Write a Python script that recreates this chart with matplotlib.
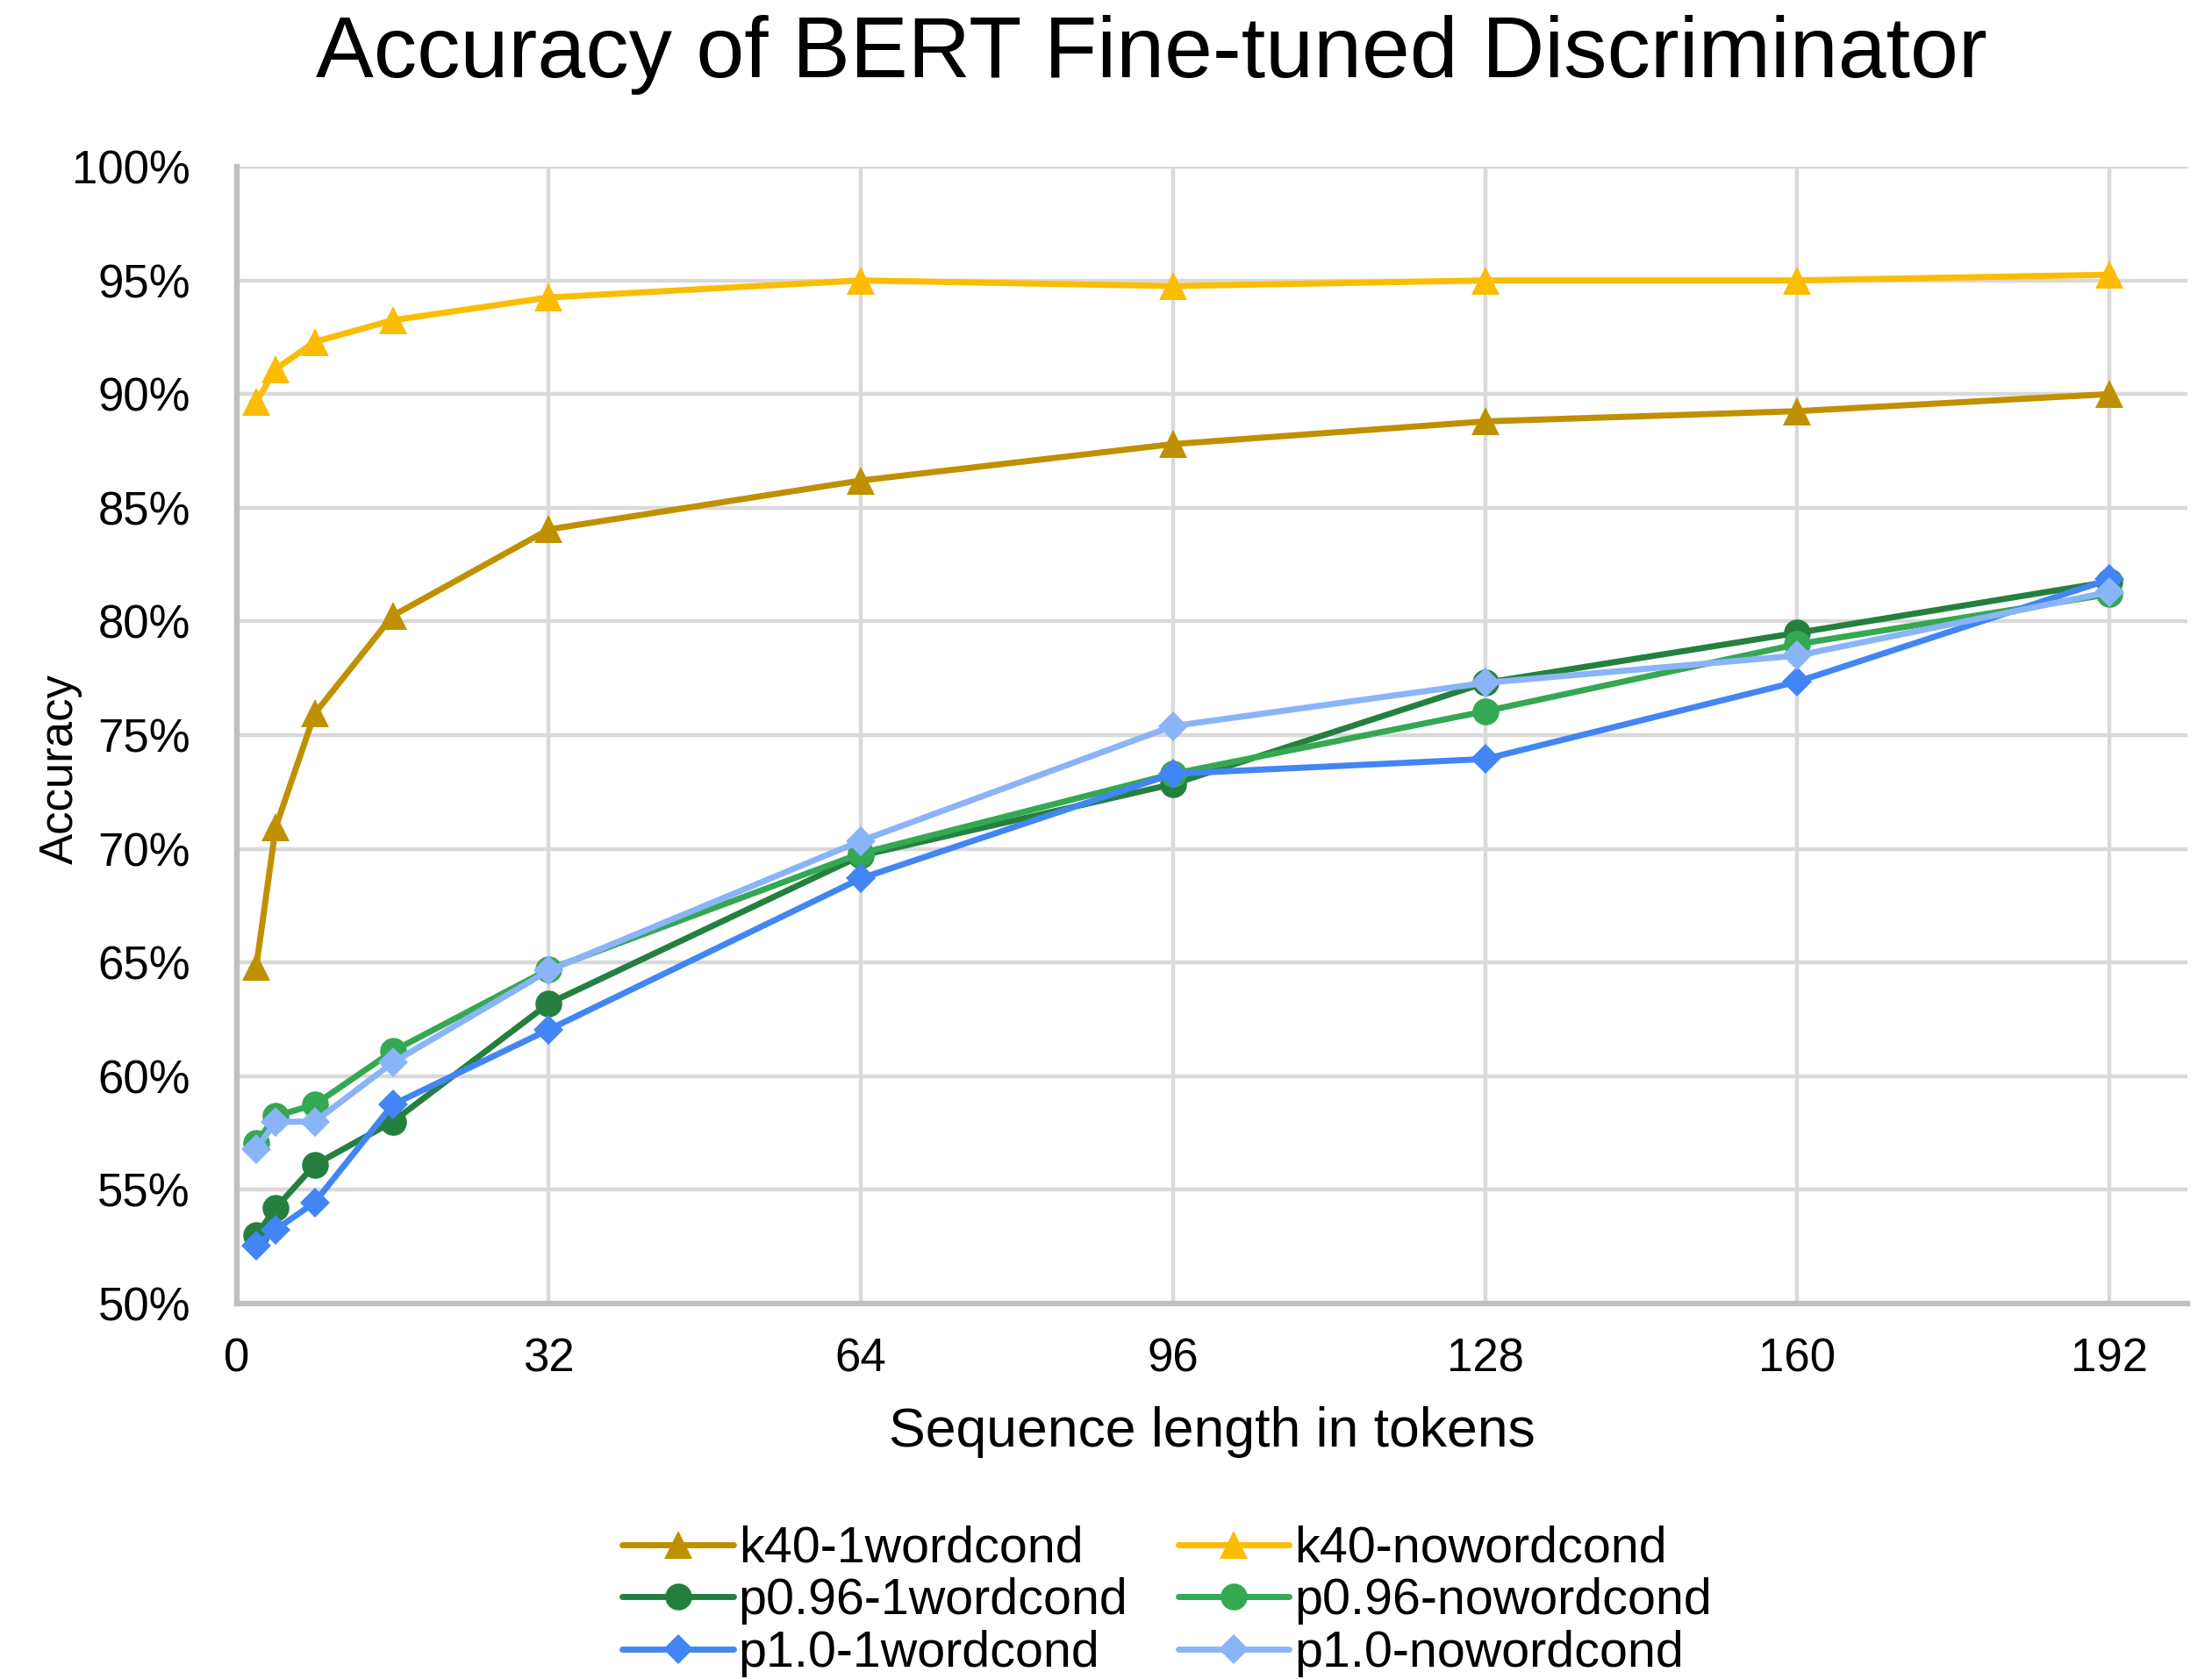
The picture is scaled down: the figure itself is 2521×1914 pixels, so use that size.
import matplotlib
matplotlib.use("Agg")
import matplotlib.pyplot as plt
from matplotlib.ticker import FuncFormatter

plt.rcParams['font.family'] = ['Liberation Sans', 'DejaVu Sans']

# Sequence lengths (tokens)
seq_len = [2, 4, 8, 16, 32, 64, 96, 128, 160, 192]

# Discriminator accuracy (%) per sampling setup
k40_1wordcond = [64.8, 70.95, 75.95, 80.25, 84.05, 86.2, 87.8, 88.8, 89.25, 90.0]
k40_nowordcond = [89.65, 91.1, 92.3, 93.25, 94.25, 95.0, 94.75, 95.0, 95.0, 95.25]
p096_1wordcond = [53.0, 54.2, 56.1, 58.0, 63.2, 69.7, 72.85, 77.3, 79.5, 81.75]
p096_nowordcond = [57.05, 58.25, 58.75, 61.1, 64.7, 69.8, 73.3, 76.05, 79.0, 81.2]
p10_1wordcond = [52.55, 53.25, 54.45, 58.75, 62.05, 68.7, 73.3, 73.95, 77.35, 81.85]
p10_nowordcond = [56.8, 58.0, 58.0, 60.6, 64.65, 70.35, 75.4, 77.3, 78.5, 81.3]

x_ticks = [0, 32, 64, 96, 128, 160, 192]
y_ticks = [50, 55, 60, 65, 70, 75, 80, 85, 90, 95, 100]

series = [
    ("k40-1wordcond", k40_1wordcond, "#BF9000", "^", 23),
    ("k40-nowordcond", k40_nowordcond, "#FBBC04", "^", 23),
    ("p0.96-1wordcond", p096_1wordcond, "#25803F", "o", 22),
    ("p0.96-nowordcond", p096_nowordcond, "#34A853", "o", 22),
    ("p1.0-1wordcond", p10_1wordcond, "#4285F4", "D", 17.5),
    ("p1.0-nowordcond", p10_nowordcond, "#8AB4F8", "D", 17.5),
]

fig = plt.figure(figsize=(25.21, 19.14), dpi=100)
ax = fig.add_axes([0.107, 0.2236, 0.8819, 0.6771])

handles = {}
for name, vals, color, marker, ms in series:
    line, = ax.plot(seq_len, vals, color=color, lw=5, marker=marker,
                    markersize=ms, markeredgewidth=0, label=name,
                    solid_joinstyle='round', solid_capstyle='round', zorder=3)
    handles[name] = line

ax.set_xlim(0, 200)
ax.set_ylim(50, 100)
ax.set_xticks(x_ticks)
ax.set_yticks(y_ticks)
ax.yaxis.set_major_formatter(FuncFormatter(lambda v, p: f"{v:.0f}%"))

ax.grid(True, color="#D9D9D9", lw=3.2, zorder=0)
ax.set_axisbelow(True)
for side in ("top", "right"):
    ax.spines[side].set_visible(False)
for side in ("left", "bottom"):
    ax.spines[side].set_color("#BFBFBF")
    ax.spines[side].set_linewidth(4.6)
    ax.spines[side].set_zorder(2)

ax.tick_params(axis="both", length=0, labelsize=38, colors="#000000")
ax.tick_params(axis="y", pad=38)
ax.tick_params(axis="x", pad=28)

ax.set_xlabel("Sequence length in tokens", fontsize=45, labelpad=20)
ax.set_ylabel("Accuracy", fontsize=38)
ax.yaxis.set_label_coords(-0.079, 0.47)

fig.text(0.5205, 0.954, "Accuracy of BERT Fine-tuned Discriminator",
         fontsize=71, ha="center", va="baseline")

order = ["k40-1wordcond", "p0.96-1wordcond", "p1.0-1wordcond",
         "k40-nowordcond", "p0.96-nowordcond", "p1.0-nowordcond"]
fig.legend([handles[n] for n in order], order, ncol=2, frameon=False,
           fontsize=41.4, loc="upper left", bbox_to_anchor=(0.2814, 0.0916),
           handlelength=2.2, handletextpad=0.1, columnspacing=1.0,
           labelspacing=0.1, borderpad=0, borderaxespad=0)

fig.savefig("out.png", dpi=100)
